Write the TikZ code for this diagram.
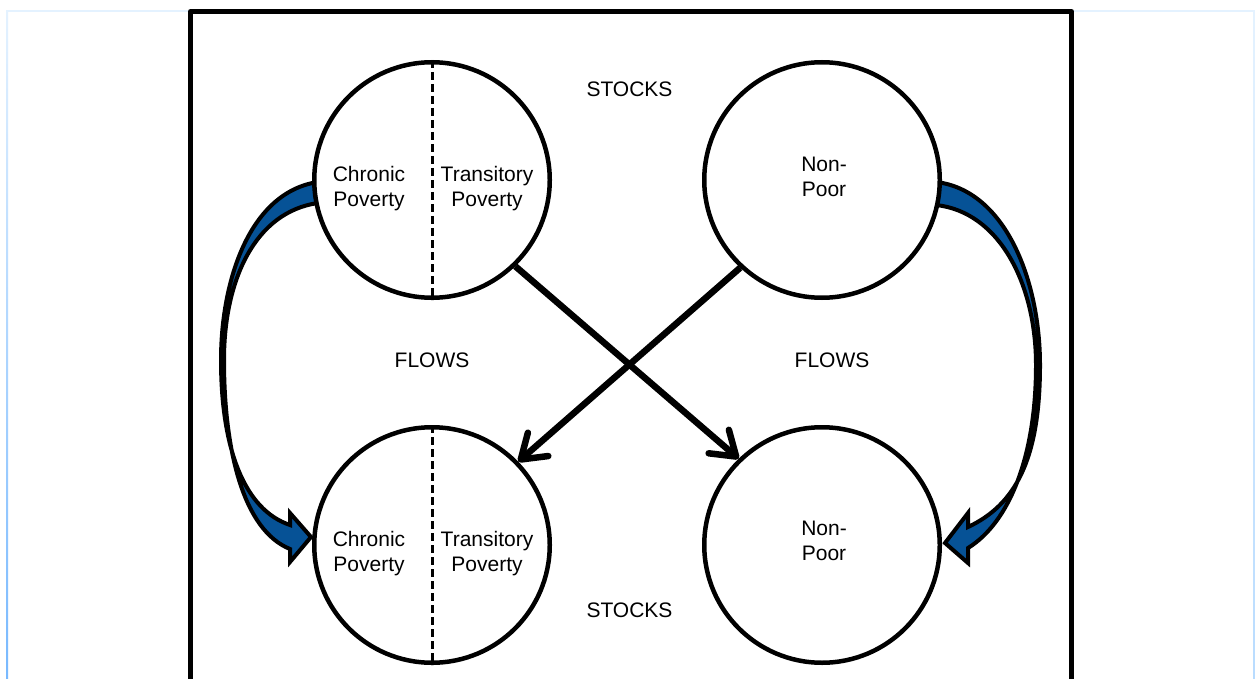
\documentclass[tikz,border=0pt]{standalone}
\usepackage{fontspec}
\setmainfont{Liberation Sans}
\usetikzlibrary{arrows.meta}
\definecolor{flowblue}{RGB}{6,82,150}
\definecolor{skytop}{RGB}{228,242,255}
\definecolor{skybot}{RGB}{120,185,255}
\definecolor{skyright}{RGB}{185,220,255}
\begin{document}
\begin{tikzpicture}[x=1pt,y=-1pt,
  stock/.style={circle,draw=black,line width=4.5pt,fill=white,minimum size=235.5pt,inner sep=0pt},
  lbl/.style={font=\fontsize{21}{25}\selectfont,align=center,inner sep=0pt},
  cross/.style={line width=6.5pt,-{Straight Barb[length=23pt,width=31pt,round]}},
  band/.style={fill=flowblue,draw=black,line width=4pt,line join=miter},
  divider/.style={line width=3pt,dash pattern=on 8pt off 4pt}]
\useasboundingbox (0,0) rectangle (1255,679);
\clip (0,0) rectangle (1255,679);
\fill[white] (0,0) rectangle (1255,679);
% light outer frame
\fill[skytop] (6,10.5) rectangle (190,12);
\fill[skytop] (1072,10.5) rectangle (1255,12);
\shade[top color=skytop,bottom color=skybot] (6,11) rectangle (8,679);
\shade[top color=skytop,bottom color=skyright] (1253,11) rectangle (1255,679);
% black frame
\draw[line width=5pt,line join=round] (190.5,700) -- (190.5,11.5) -- (1071.5,11.5) -- (1071.5,700);
% curved blue flow arrows
\draw[band] (318,182) .. controls (250,192) and (221,280) .. (221,360)
  .. controls (221,450) and (245,510) .. (290,525) -- (290,513) -- (311,537) -- (290,562) -- (290,549)
  .. controls (243,530) and (224,450) .. (224,360)
  .. controls (224,280) and (255,212) .. (318,203) -- cycle;
\draw[band] (936,182) .. controls (1005,190) and (1040,280) .. (1040,365)
  .. controls (1040,460) and (1015,505) .. (968,527) -- (968,513) -- (945,543) -- (968,563) -- (968,548)
  .. controls (1010,522) and (1036,455) .. (1036,365)
  .. controls (1036,285) and (1000,212) .. (936,205) -- cycle;
% stocks
\node[stock] (tl) at (432,180) {};
\node[stock] (tr) at (822,180) {};
\node[stock] (bl) at (432,545) {};
\node[stock] (br) at (822,545) {};
\draw[divider] (tl.north) -- (tl.south);
\draw[divider] (bl.north) -- (bl.south);
% labels
\node[lbl,anchor=north] (tlc) at (369,166) {Chronic\\Poverty};
\node[lbl,anchor=north] (tlt) at (487,166) {Transitory\\Poverty};
\node[lbl,anchor=north] (trn) at (824,157) {Non-\\Poor};
\node[lbl,anchor=north] (blc) at (369,531) {Chronic\\Poverty};
\node[lbl,anchor=north] (blt) at (487,531) {Transitory\\Poverty};
\node[lbl,anchor=north] (brn) at (824,521) {Non-\\Poor};
\node[lbl] (stocks1) at (629.5,89) {STOCKS};
\node[lbl] (stocks2) at (629.5,610) {STOCKS};
\node[lbl] (flows1) at (432,360) {FLOWS};
\node[lbl] (flows2) at (832,360) {FLOWS};
% crossing flows
\draw[cross] (tl.-46) -- (br.134.7);
\draw[cross] (tr.-133.7) -- (bl.44.7);
\end{tikzpicture}
\end{document}
